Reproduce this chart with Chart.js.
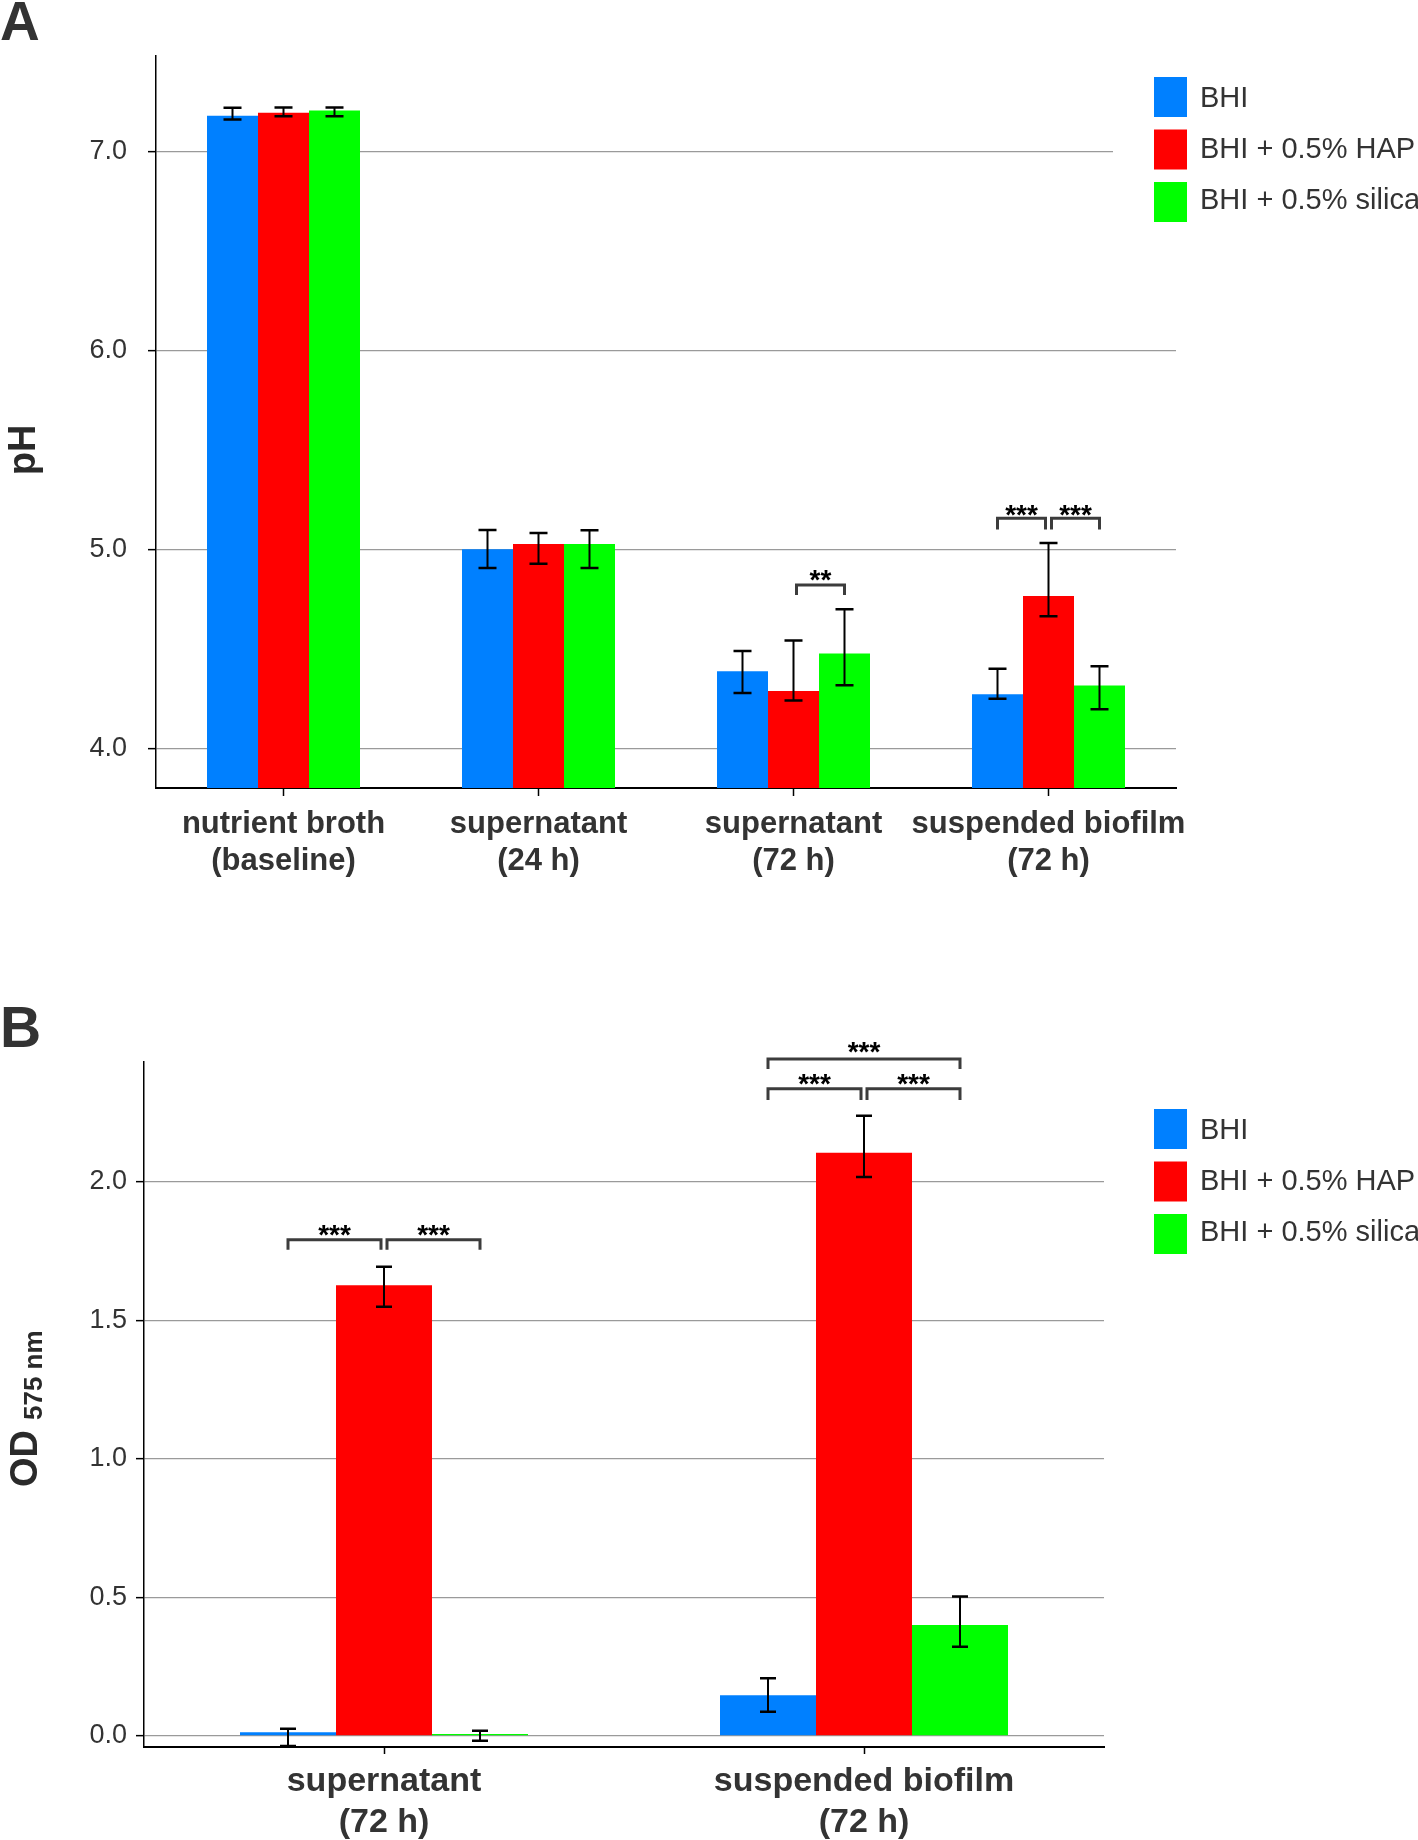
<!DOCTYPE html>
<html>
<head>
<meta charset="utf-8">
<script src="https://cdn.jsdelivr.net/npm/chart.js@4.4.1/dist/chart.umd.min.js"></script>
<style>
  html, body { margin: 0; padding: 0; background: #fff; }
  #wrapA { position: absolute; left: 0; top: 0; width: 1418px; height: 900px; }
  #wrapB { position: absolute; left: 0; top: 900px; width: 1418px; height: 940px; }
</style>
</head>
<body>
<div id="wrapA"><canvas id="chartA" width="1418" height="900"></canvas></div>
<div id="wrapB"><canvas id="chartB" width="1418" height="940"></canvas></div>
<script>
// series shared by both panels
var seriesNames = ['BHI', 'BHI + 0.5% HAP', 'BHI + 0.5% silica'];
var seriesColors = ['#0080ff', '#ff0000', '#00ff00'];

// panel A - pH
var phCategories = [['nutrient broth', '(baseline)'], ['supernatant', '(24 h)'], ['supernatant', '(72 h)'], ['suspended biofilm', '(72 h)']];
var phTicks = [4.0, 5.0, 6.0, 7.0];
var phBHI = [7.18, 5.00, 4.387, 4.271];
var phHAP = [7.195, 5.027, 4.288, 4.765];
var phSilica = [7.206, 5.027, 4.476, 4.315];
var phBHILow = [7.161, 4.906, 4.278, 4.249];
var phBHIHigh = [7.22, 5.097, 4.489, 4.399];
var phHAPLow = [7.177, 4.928, 4.24, 4.663];
var phHAPHigh = [7.221, 5.082, 4.541, 5.032];
var phSilicaLow = [7.177, 4.906, 4.317, 4.196];
var phSilicaHigh = [7.221, 5.096, 4.699, 4.412];
var phBrackets = [
    { cat: 2, from: 1, to: 2, top: 4.82, leg: 4.77, label: '**', labelAt: 4.88 },
    { cat: 3, from: 0, to: 1, top: 5.156, leg: 5.10, label: '***', labelAt: 5.21 },
    { cat: 3, from: 1, to: 2, top: 5.156, leg: 5.10, label: '***', labelAt: 5.21 }
];

// panel B - OD 575 nm
var odCategories = [['supernatant', '(72 h)'], ['suspended biofilm', '(72 h)']];
var odTicks = [0.0, 0.5, 1.0, 1.5, 2.0];
var odBHI = [0.013, 0.147];
var odHAP = [1.627, 2.105];
var odSilica = [0.007, 0.40];
var odBHILow = [-0.036, 0.087];
var odBHIHigh = [0.026, 0.208];
var odHAPLow = [1.549, 2.018];
var odHAPHigh = [1.694, 2.239];
var odSilicaLow = [-0.017, 0.322];
var odSilicaHigh = [0.019, 0.503];
var odBrackets = [
    { cat: 0, from: 0, to: 1, top: 1.791, leg: 1.755, label: '***', labelAt: 1.835 },
    { cat: 0, from: 1, to: 2, top: 1.791, leg: 1.755, label: '***', labelAt: 1.835 },
    { cat: 1, from: 0, to: 2, top: 2.444, leg: 2.408, label: '***', labelAt: 2.495 },
    { cat: 1, from: 0, to: 1, top: 2.336, leg: 2.296, label: '***', labelAt: 2.379 },
    { cat: 1, from: 1, to: 2, top: 2.336, leg: 2.296, label: '***', labelAt: 2.379 }
];

var FONT = '"Liberation Sans", Arial, Helvetica, sans-serif';
Chart.defaults.font.family = FONT;
Chart.defaults.color = '#333';

function makeDatasets(values) {
    return values.map(function(v, k) {
        return {
            label: seriesNames[k],
            data: v,
            backgroundColor: seriesColors[k],
            borderWidth: 0,
            barPercentage: 1,
            categoryPercentage: 0.6
        };
    });
}

// error bars, brackets, legend, axis title, panel letter
function makeExtras(cfg) {
    return {
        id: 'extras',
        afterDatasetsDraw: function(chart) {
            var ctx = chart.ctx, ys = chart.scales.y;
            ctx.save();
            ctx.strokeStyle = '#000';
            chart.data.datasets.forEach(function(ds, d) {
                chart.getDatasetMeta(d).data.forEach(function(bar, i) {
                    var y1 = ys.getPixelForValue(cfg.errLow[d][i]);
                    var y2 = ys.getPixelForValue(cfg.errHigh[d][i]);
                    ctx.lineWidth = 2;
                    ctx.beginPath();
                    ctx.moveTo(bar.x, y1); ctx.lineTo(bar.x, y2);
                    ctx.stroke();
                    ctx.lineWidth = 2.5;
                    ctx.beginPath();
                    ctx.moveTo(bar.x - cfg.cap / 2, y1); ctx.lineTo(bar.x + cfg.cap / 2, y1);
                    ctx.moveTo(bar.x - cfg.cap / 2, y2); ctx.lineTo(bar.x + cfg.cap / 2, y2);
                    ctx.stroke();
                });
            });
            ctx.restore();
        },
        afterDraw: function(chart) {
            var ctx = chart.ctx, ys = chart.scales.y;
            ctx.save();

            // significance brackets
            cfg.brackets.forEach(function(b) {
                var x1 = chart.getDatasetMeta(b.from).data[b.cat].x;
                var x2 = chart.getDatasetMeta(b.to).data[b.cat].x;
                if (b.from === 1) x1 += 3;
                if (b.to === 1) x2 -= 3;
                var yt = ys.getPixelForValue(b.top), yl = ys.getPixelForValue(b.leg);
                ctx.strokeStyle = '#3c3c3c';
                ctx.lineWidth = 3;
                ctx.lineJoin = 'miter';
                ctx.beginPath();
                ctx.moveTo(x1, yl); ctx.lineTo(x1, yt); ctx.lineTo(x2, yt); ctx.lineTo(x2, yl);
                ctx.stroke();
                ctx.fillStyle = '#000';
                ctx.font = 'bold 28px ' + FONT;
                ctx.textAlign = 'center';
                ctx.textBaseline = 'alphabetic';
                ctx.fillText(b.label, (x1 + x2) / 2, ys.getPixelForValue(b.labelAt) + 16);
            });

            // legend
            if (cfg.legendBg) {
                ctx.fillStyle = '#fff';
                ctx.fillRect(cfg.legendBg[0], cfg.legendBg[1], cfg.legendBg[2], cfg.legendBg[3]);
            }
            chart.data.datasets.forEach(function(ds, k) {
                var top = cfg.legendTop + k * 52.5;
                ctx.fillStyle = ds.backgroundColor;
                ctx.fillRect(1154, top, 33, 40);
                ctx.fillStyle = '#333';
                ctx.font = '29px ' + FONT;
                ctx.textAlign = 'left';
                ctx.textBaseline = 'middle';
                ctx.fillText(ds.label, 1200, cfg.legendTop + 22 + k * 51);
            });

            // panel letter
            ctx.fillStyle = '#333';
            ctx.font = 'bold ' + cfg.letterSize + 'px ' + FONT;
            ctx.textAlign = 'left';
            ctx.textBaseline = 'alphabetic';
            ctx.fillText(cfg.letter, 0, cfg.letterY);

            // rotated y title
            ctx.save();
            ctx.translate(cfg.titleX, cfg.titleY);
            ctx.rotate(-Math.PI / 2);
            ctx.fillStyle = '#2a2a2a';
            ctx.textAlign = cfg.titleAlign;
            var pos = 0;
            cfg.titleParts.forEach(function(p) {
                ctx.font = 'bold ' + p.size + 'px ' + FONT;
                pos += p.gap || 0;
                ctx.fillText(p.text, pos, p.shift || 0);
                pos += ctx.measureText(p.text).width;
            });
            ctx.restore();

            ctx.restore();
        }
    };
}

new Chart(document.getElementById('chartA'), {
    type: 'bar',
    data: {
        labels: phCategories,
        datasets: makeDatasets([phBHI, phHAP, phSilica])
    },
    options: {
        responsive: false,
        animation: false,
        layout: { padding: { top: 56, right: 242, left: 0, bottom: 0 } },
        plugins: { legend: { display: false }, tooltip: { enabled: false } },
        scales: {
            x: {
                grid: { offset: false, drawOnChartArea: false, tickLength: 8, tickColor: '#000', tickWidth: 1.5 },
                border: { color: '#000', width: 2 },
                ticks: { font: { size: 31, weight: 'bold', lineHeight: 1.2 }, padding: 10, color: '#333', maxRotation: 0, autoSkip: false },
                afterFit: function(s) { s.height = 112; }
            },
            y: {
                min: 3.8,
                max: 7.48,
                afterBuildTicks: function(s) { s.ticks = phTicks.map(function(v) { return { value: v }; }); },
                grid: { color: '#9a9a9a', lineWidth: 1.3, tickLength: 8, tickColor: '#000', tickWidth: 1.5 },
                border: { color: '#000', width: 1.5 },
                ticks: { font: { size: 27 }, padding: 21, color: '#333', callback: function(v) { return Number(v).toFixed(1); } },
                afterFit: function(s) { s.width = 156; }
            }
        }
    },
    plugins: [makeExtras({
        errLow: [phBHILow, phHAPLow, phSilicaLow],
        errHigh: [phBHIHigh, phHAPHigh, phSilicaHigh],
        cap: 18,
        brackets: phBrackets,
        legendTop: 77,
        legendBg: [1113, 60, 305, 180],
        letter: 'A', letterSize: 55, letterY: 40,
        titleX: 35, titleY: 450, titleAlign: 'center',
        titleParts: [{ text: 'pH', size: 38 }]
    })]
});

new Chart(document.getElementById('chartB'), {
    type: 'bar',
    data: {
        labels: odCategories,
        datasets: makeDatasets([odBHI, odHAP, odSilica])
    },
    options: {
        responsive: false,
        animation: false,
        layout: { padding: { top: 162, right: 314, left: 0, bottom: 0 } },
        plugins: { legend: { display: false }, tooltip: { enabled: false } },
        scales: {
            x: {
                grid: { offset: false, drawOnChartArea: false, tickLength: 7, tickColor: '#000', tickWidth: 1.5 },
                border: { color: '#000', width: 2 },
                ticks: { font: { size: 34, weight: 'bold', lineHeight: 1.18 }, padding: 8, color: '#333', maxRotation: 0, autoSkip: false },
                afterFit: function(s) { s.height = 93; }
            },
            y: {
                min: -0.04,
                max: 2.433,
                afterBuildTicks: function(s) { s.ticks = odTicks.map(function(v) { return { value: v }; }); },
                grid: { color: '#9a9a9a', lineWidth: 1.3, tickLength: 8, tickColor: '#000', tickWidth: 1.5 },
                border: { color: '#000', width: 1.5 },
                ticks: { font: { size: 27 }, padding: 9, color: '#333', callback: function(v) { return Number(v).toFixed(1); } },
                afterFit: function(s) { s.width = 144; }
            }
        }
    },
    plugins: [makeExtras({
        errLow: [odBHILow, odHAPLow, odSilicaLow],
        errHigh: [odBHIHigh, odHAPHigh, odSilicaHigh],
        cap: 16,
        brackets: odBrackets,
        legendTop: 209,
        legendBg: null,
        letter: 'B', letterSize: 57, letterY: 147,
        titleX: 37, titleY: 587, titleAlign: 'left',
        titleParts: [{ text: 'OD', size: 38 }, { text: '575 nm', size: 26, gap: 10, shift: 5 }]
    })]
});
</script>
</body>
</html>
